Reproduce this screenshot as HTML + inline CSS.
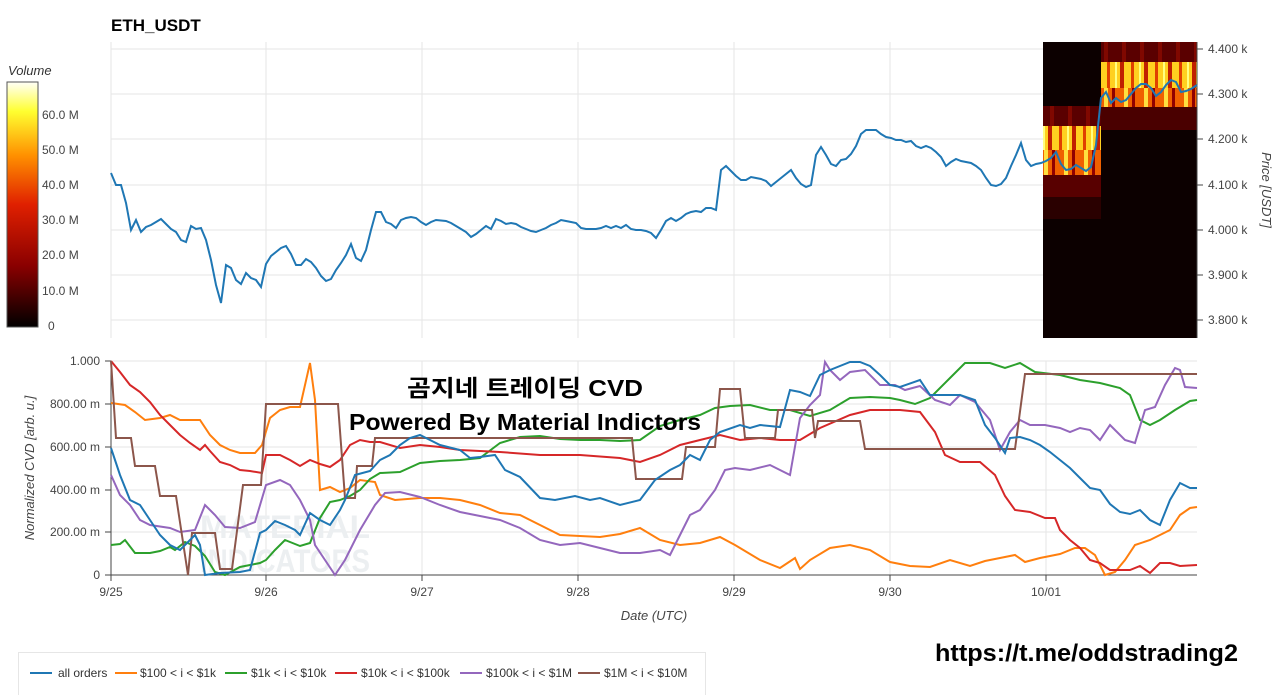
<!DOCTYPE html>
<html><head><meta charset="utf-8"><style>
body{margin:0;background:#fff;width:1280px;height:695px;overflow:hidden;font-family:"Liberation Sans","Noto Sans CJK KR",sans-serif}
svg text{font-family:"Liberation Sans","Noto Sans CJK KR",sans-serif}
</style></head><body>
<svg width="1280" height="695" xmlns="http://www.w3.org/2000/svg">
<defs>
<linearGradient id="cb" x1="0" y1="1" x2="0" y2="0">
<stop offset="0" stop-color="#000"/><stop offset="0.25" stop-color="#8a0000"/><stop offset="0.5" stop-color="#e02000"/><stop offset="0.7" stop-color="#ff9000"/><stop offset="0.88" stop-color="#ffff30"/><stop offset="1" stop-color="#fffff8"/></linearGradient>
<pattern id="p1" width="24" height="10" patternUnits="userSpaceOnUse"><rect width="24" height="10" fill="#ffd020"/><rect x="3" width="3" height="10" fill="#e04000"/><rect x="11" width="2" height="10" fill="#ffff80"/><rect x="16" width="4" height="10" fill="#c02000"/></pattern>
<pattern id="p2" width="20" height="10" patternUnits="userSpaceOnUse"><rect width="20" height="10" fill="#f06000"/><rect x="4" width="4" height="10" fill="#ffe040"/><rect x="12" width="3" height="10" fill="#900000"/></pattern>
<pattern id="p3" width="18" height="10" patternUnits="userSpaceOnUse"><rect width="18" height="10" fill="#5a0000"/><rect x="6" width="4" height="10" fill="#800800"/></pattern>
</defs>
<text x="111" y="31" font-size="17" font-weight="bold">ETH_USDT</text>
<text x="8" y="75" font-size="13" font-style="italic" fill="#333">Volume</text>
<rect x="7" y="82" width="31" height="245" fill="url(#cb)" stroke="#555"/>
<g font-size="12" fill="#444"><text x="42" y="119">60.0 M</text><text x="42" y="154">50.0 M</text><text x="42" y="189">40.0 M</text><text x="42" y="224">30.0 M</text><text x="42" y="259">20.0 M</text><text x="42" y="295">10.0 M</text><text x="48" y="330">0</text></g>
<g stroke="#e6e6e6"><line x1="111" y1="49" x2="1197" y2="49"/><line x1="111" y1="94" x2="1197" y2="94"/><line x1="111" y1="139" x2="1197" y2="139"/><line x1="111" y1="185" x2="1197" y2="185"/><line x1="111" y1="230" x2="1197" y2="230"/><line x1="111" y1="275" x2="1197" y2="275"/><line x1="111" y1="320" x2="1197" y2="320"/>
<line x1="266" y1="42" x2="266" y2="338"/><line x1="422" y1="42" x2="422" y2="338"/><line x1="578" y1="42" x2="578" y2="338"/><line x1="734" y1="42" x2="734" y2="338"/><line x1="890" y1="42" x2="890" y2="338"/><line x1="111" y1="42" x2="111" y2="338"/></g>
<rect x="1043" y="42" width="154" height="296" fill="#0c0000"/>
<rect x="1043" y="106" width="58" height="20" fill="url(#p3)"/>
<rect x="1043" y="126" width="58" height="24" fill="url(#p1)"/>
<rect x="1043" y="150" width="58" height="25" fill="url(#p2)"/>
<rect x="1043" y="175" width="58" height="22" fill="#580000"/>
<rect x="1043" y="197" width="58" height="22" fill="#2a0000"/>
<rect x="1101" y="42" width="96" height="20" fill="url(#p3)"/>
<rect x="1101" y="62" width="96" height="26" fill="url(#p1)"/>
<rect x="1101" y="88" width="96" height="19" fill="url(#p2)"/>
<rect x="1101" y="107" width="96" height="23" fill="#4a0000"/>
<line x1="1197" y1="42" x2="1197" y2="338" stroke="#444"/>
<g font-size="12" fill="#444"><text x="1208" y="53">4.400 k</text><text x="1208" y="98">4.300 k</text><text x="1208" y="143">4.200 k</text><text x="1208" y="189">4.100 k</text><text x="1208" y="234">4.000 k</text><text x="1208" y="279">3.900 k</text><text x="1208" y="324">3.800 k</text></g>
<g stroke="#444"><line x1="1197" y1="49" x2="1203" y2="49"/><line x1="1197" y1="94" x2="1203" y2="94"/><line x1="1197" y1="139" x2="1203" y2="139"/><line x1="1197" y1="185" x2="1203" y2="185"/><line x1="1197" y1="230" x2="1203" y2="230"/><line x1="1197" y1="275" x2="1203" y2="275"/><line x1="1197" y1="320" x2="1203" y2="320"/></g>
<text transform="translate(1262,190) rotate(90)" font-size="13" font-style="italic" fill="#444" text-anchor="middle">Price [USDT]</text>
<polyline fill="none" stroke="#1f77b4" stroke-width="2" points="111,173 116,185 121,185 126,203 131,230 136,220 141,232 146,227 151,225 156,222 161,219 166,224 171,229 176,232 181,240 186,242 191,226 196,229 201,228 206,240 211,260 216,285 221,303 226,265 231,268 236,280 241,284 246,273 251,278 256,280 261,287 266,264 271,256 276,252 281,248 286,246 291,254 296,265 301,265 306,259 311,262 316,268 321,276 326,281 331,279 336,270 341,263 346,255 351,244 356,258 361,261 366,250 371,230 376,212 381,212 386,222 391,224 396,228 401,220 406,218 411,217 416,218 421,222 426,225 431,222 436,220 446,221 451,223 456,226 461,229 466,232 471,237 476,234 481,230 486,226 491,229 496,219 501,221 506,224 511,223 516,224 521,227 526,229 531,231 536,232 541,230 546,228 551,225 556,223 561,220 566,221 571,222 576,223 581,228 586,229 591,229 596,229 601,228 606,226 611,228 616,226 621,228 626,225 631,229 636,230 641,230 646,231 651,233 656,238 661,230 666,221 671,218 676,221 681,218 686,214 691,212 696,211 701,212 706,208 711,208 716,210 721,170 726,166 731,171 736,176 741,180 746,180 751,177 756,178 761,179 766,181 771,186 776,182 781,178 786,174 791,170 796,178 801,184 806,187 811,185 816,155 821,147 826,155 831,164 836,166 841,160 846,159 851,154 856,146 861,134 866,130 871,130 876,130 881,134 886,137 891,138 896,140 901,140 906,142 911,141 916,146 921,148 926,146 931,148 936,152 941,157 946,166 951,162 956,159 961,161 966,162 971,163 976,166 981,170 986,178 991,185 996,186 1001,184 1006,178 1011,166 1016,155 1021,143 1026,160 1031,166 1036,164 1041,163 1046,161 1051,158 1056,152 1061,164 1066,170 1071,169 1076,165 1081,168 1086,171 1091,167 1096,145 1101,98 1106,92 1111,103 1116,98 1121,102 1126,100 1131,94 1136,88 1141,84 1146,84 1151,88 1156,96 1161,92 1166,85 1171,80 1176,82 1181,92 1186,91 1191,89 1197,85"/>
<g stroke="#e6e6e6"><line x1="111" y1="361" x2="1197" y2="361"/><line x1="111" y1="404" x2="1197" y2="404"/><line x1="111" y1="447" x2="1197" y2="447"/><line x1="111" y1="490" x2="1197" y2="490"/><line x1="111" y1="532" x2="1197" y2="532"/>
<line x1="266" y1="361" x2="266" y2="575"/><line x1="422" y1="361" x2="422" y2="575"/><line x1="578" y1="361" x2="578" y2="575"/><line x1="734" y1="361" x2="734" y2="575"/><line x1="890" y1="361" x2="890" y2="575"/><line x1="1046" y1="361" x2="1046" y2="575"/></g>
<text x="200" y="538" font-size="32" font-weight="bold" fill="#eceff1" textLength="170" lengthAdjust="spacingAndGlyphs">MATERIAL</text>
<text x="200" y="572" font-size="32" font-weight="bold" fill="#eceff1" textLength="170" lengthAdjust="spacingAndGlyphs">INDICATORS</text>
<g stroke="#444"><line x1="111" y1="361" x2="111" y2="575"/><line x1="111" y1="575" x2="1197" y2="575"/>
<line x1="105" y1="361" x2="111" y2="361"/><line x1="105" y1="404" x2="111" y2="404"/><line x1="105" y1="447" x2="111" y2="447"/><line x1="105" y1="490" x2="111" y2="490"/><line x1="105" y1="532" x2="111" y2="532"/><line x1="105" y1="575" x2="111" y2="575"/>
<line x1="111" y1="575" x2="111" y2="581"/><line x1="266" y1="575" x2="266" y2="581"/><line x1="422" y1="575" x2="422" y2="581"/><line x1="578" y1="575" x2="578" y2="581"/><line x1="734" y1="575" x2="734" y2="581"/><line x1="890" y1="575" x2="890" y2="581"/><line x1="1046" y1="575" x2="1046" y2="581"/></g>
<g font-size="12" fill="#444" text-anchor="end"><text x="100" y="365">1.000</text><text x="100" y="408">800.00 m</text><text x="100" y="451">600.00 m</text><text x="100" y="494">400.00 m</text><text x="100" y="536">200.00 m</text><text x="100" y="579">0</text></g>
<g font-size="12" fill="#444" text-anchor="middle"><text x="111" y="596">9/25</text><text x="266" y="596">9/26</text><text x="422" y="596">9/27</text><text x="578" y="596">9/28</text><text x="734" y="596">9/29</text><text x="890" y="596">9/30</text><text x="1046" y="596">10/01</text></g>
<text x="654" y="620" font-size="13" font-style="italic" fill="#444" text-anchor="middle">Date (UTC)</text>
<text transform="translate(34,468) rotate(-90)" font-size="13" font-style="italic" fill="#444" text-anchor="middle">Normalized CVD [arb. u.]</text>
<g fill="none" stroke-width="2">
<polyline stroke="#ff7f0e" points="111,403 125,405 135,412 145,420 160,418 170,415 180,420 190,420 200,420 210,435 220,445 230,450 240,453 255,453 262,445 270,418 280,410 290,407 300,407 310,363 315,400 320,490 330,487 340,492 350,488 360,480 375,482 380,495 395,500 420,498 440,498 460,500 480,505 500,513 520,515 540,525 560,535 580,536 600,537 620,534 640,528 660,540 680,545 700,543 720,537 735,545 760,560 780,568 795,558 800,569 810,560 830,548 850,545 870,550 890,562 910,566 930,567 950,560 970,566 985,561 1000,558 1015,555 1025,562 1040,558 1060,554 1075,548 1085,548 1095,555 1105,575 1115,572 1125,560 1135,545 1150,540 1170,530 1180,515 1190,508 1197,507"/>
<polyline stroke="#2ca02c" points="111,545 120,544 125,540 135,553 150,553 160,551 170,547 175,550 185,542 195,546 205,556 215,572 225,575 240,567 250,565 260,563 266,560 275,550 285,540 300,546 310,543 320,518 330,502 340,500 350,496 360,490 370,479 380,473 400,472 420,463 440,461 460,460 480,458 500,443 520,437 540,436 560,439 580,440 600,440 620,441 640,440 660,426 680,420 700,415 715,408 730,406 750,405 770,410 790,410 810,416 830,410 850,398 870,397 890,398 900,400 915,404 930,398 950,378 965,363 990,363 1005,368 1020,363 1035,372 1060,375 1080,380 1100,383 1120,388 1130,395 1140,420 1150,425 1160,420 1175,410 1190,401 1197,400"/>
<polyline stroke="#d62728" points="111,361 120,372 130,385 140,392 150,402 160,415 170,425 180,435 190,443 200,450 205,445 210,451 220,462 230,465 240,470 250,471 262,473 266,455 280,455 290,460 300,466 310,460 320,464 330,467 340,460 350,445 360,440 370,442 380,442 400,448 420,445 440,447 460,450 500,452 540,455 580,455 620,458 640,462 660,455 680,445 700,440 720,435 740,440 760,438 780,440 800,440 820,428 850,415 870,410 900,410 920,412 935,432 945,455 960,462 980,462 995,475 1005,496 1015,510 1030,512 1045,518 1055,518 1060,530 1070,540 1080,548 1090,560 1100,563 1110,570 1130,570 1140,566 1150,573 1160,563 1170,563 1180,566 1197,565"/>
<polyline stroke="#9467bd" points="111,475 120,495 130,505 140,520 150,525 170,528 180,532 195,530 205,505 215,515 225,527 240,528 255,522 266,485 280,480 290,485 300,500 310,520 315,545 325,560 335,575 345,560 360,530 375,505 385,493 400,492 420,497 440,505 460,512 480,516 500,520 520,528 540,540 560,545 580,543 600,548 620,553 640,553 660,550 670,555 680,535 690,515 700,510 715,490 725,470 735,468 750,470 770,465 790,475 800,418 810,405 820,395 825,362 830,370 840,380 850,372 865,370 880,385 895,385 905,390 920,386 935,400 950,405 960,395 975,402 990,420 1000,450 1010,432 1020,420 1030,425 1045,425 1060,428 1070,432 1080,428 1090,430 1100,440 1110,425 1125,440 1135,443 1145,410 1155,407 1165,385 1175,368 1180,370 1185,387 1197,388"/>
<polyline stroke="#8c564b" points="111,361 116,438 131,438 135,466 155,466 160,496 176,496 188,575 192,533 215,533 220,569 232,569 243,485 261,485 266,404 338,404 345,498 355,498 357,466 372,466 375,438 632,438 636,479 682,479 686,447 715,447 720,389 740,389 745,438 775,438 778,410 812,410 815,438 818,421 860,421 865,449 1015,449 1025,374 1197,374"/>
<polyline stroke="#1f77b4" points="111,448 120,475 130,500 140,505 150,520 160,535 170,545 180,550 190,540 195,535 200,545 205,575 220,573 240,572 250,570 260,533 266,530 275,521 285,525 295,530 300,535 310,513 320,520 330,525 340,510 345,500 355,475 370,471 380,460 390,455 400,445 410,438 420,435 430,440 440,445 460,450 470,458 480,457 495,455 505,470 520,477 540,498 555,500 575,496 590,500 600,498 620,505 640,500 655,480 670,470 680,465 690,455 700,460 710,440 720,432 740,425 750,428 760,425 780,427 790,390 800,392 810,396 820,375 830,370 850,362 860,362 870,366 880,375 890,385 900,387 920,380 930,395 960,395 975,400 985,425 995,438 1005,453 1010,438 1020,437 1030,440 1040,445 1050,452 1060,460 1070,468 1080,478 1090,488 1100,490 1110,504 1120,512 1130,514 1140,510 1150,520 1160,525 1170,500 1180,483 1190,488 1197,488"/>
</g>
<text x="525" y="396" font-size="23" font-weight="bold" text-anchor="middle" textLength="236" lengthAdjust="spacingAndGlyphs">곰지네 트레이딩 CVD</text>
<text x="525" y="430" font-size="23" font-weight="bold" text-anchor="middle" textLength="352" lengthAdjust="spacingAndGlyphs">Powered By Material Indictors</text>
<rect x="18.5" y="652.5" width="687" height="45" fill="#fff" stroke="#e6e6e6"/>
<g font-size="12" fill="#333">
<line x1="30" y1="673" x2="52" y2="673" stroke="#1f77b4" stroke-width="2"/><text x="58" y="677">all orders</text>
<line x1="115" y1="673" x2="137" y2="673" stroke="#ff7f0e" stroke-width="2"/><text x="140" y="677">$100 &lt; i &lt; $1k</text>
<line x1="225" y1="673" x2="247" y2="673" stroke="#2ca02c" stroke-width="2"/><text x="251" y="677">$1k &lt; i &lt; $10k</text>
<line x1="335" y1="673" x2="357" y2="673" stroke="#d62728" stroke-width="2"/><text x="361" y="677">$10k &lt; i &lt; $100k</text>
<line x1="460" y1="673" x2="482" y2="673" stroke="#9467bd" stroke-width="2"/><text x="486" y="677">$100k &lt; i &lt; $1M</text>
<line x1="578" y1="673" x2="600" y2="673" stroke="#8c564b" stroke-width="2"/><text x="604" y="677">$1M &lt; i &lt; $10M</text>
</g>
<text x="935" y="661" font-size="24" font-weight="bold" textLength="303" lengthAdjust="spacingAndGlyphs">https://t.me/oddstrading2</text>
</svg>
</body></html>
